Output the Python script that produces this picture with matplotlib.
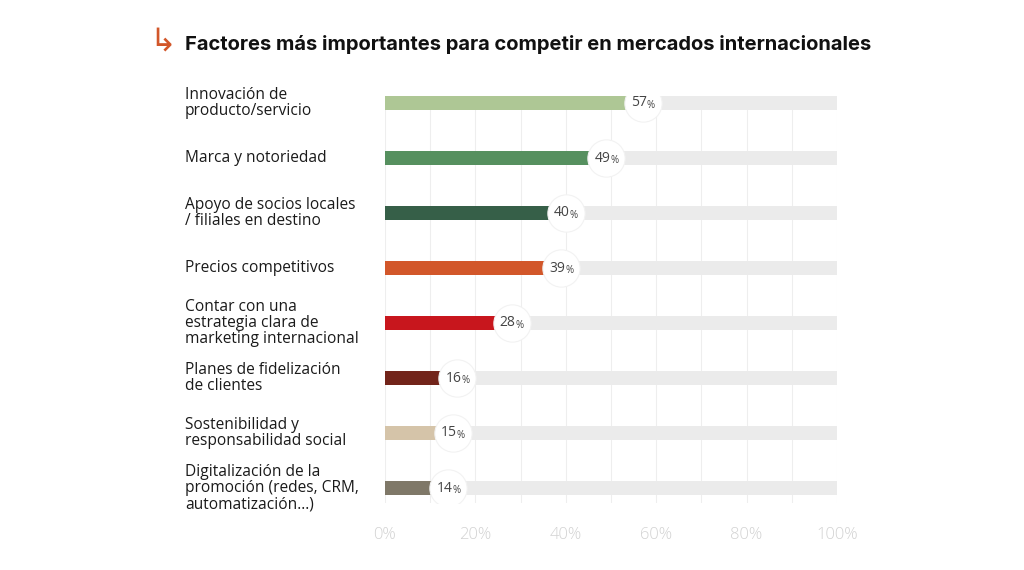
import matplotlib
matplotlib.use("Agg")
import matplotlib.pyplot as plt
from matplotlib.transforms import blended_transform_factory

categories = [
    "Innovación de\nproducto/servicio",
    "Marca y notoriedad",
    "Apoyo de socios locales\n/ filiales en destino",
    "Precios competitivos",
    "Contar con una\nestrategia clara de\nmarketing internacional",
    "Planes de fidelización\nde clientes",
    "Sostenibilidad y\nresponsabilidad social",
    "Digitalización de la\npromoción (redes, CRM,\nautomatización...)",
]
values = [57, 49, 40, 39, 28, 16, 15, 14]
colors = ["#aec795", "#56905f", "#365f48", "#d2572a", "#c8161d", "#72241a", "#d5c4a9", "#7f7868"]
ticks = [0, 20, 40, 60, 80, 100]
title = "Factores más importantes para competir en mercados internacionales"

plt.rcParams['font.family'] = ['Open Sans', 'DejaVu Sans']

fig = plt.figure(figsize=(10.24, 5.70), dpi=100)
ax = fig.add_axes([385/1024, 1-503/570, (837-385)/1024, (503-96)/570])

ypos = list(range(len(values)))
bh = 0.255
ax.barh(ypos, [100]*len(values), height=bh, color="#ebebeb", zorder=1)
ax.barh(ypos, values, height=bh, color=colors, zorder=2)
ax.scatter(values, ypos, s=720, facecolor="white", edgecolor="#f2f2f2", linewidth=0.8, zorder=3)
for v, y in zip(values, ypos):
    ax.text(v + 0.9, y, str(v), ha="right", va="center", fontsize=10, color="#444444", zorder=4)
    ax.text(v + 0.9, y + 0.04, "%", ha="left", va="center", fontsize=7, color="#444444", zorder=4)

ax.set_xlim(0, 100)
ax.set_ylim(len(values) - 1 + 15/55, -7/55)
ax.set_xticks(range(0, 101, 10))
ax.grid(axis="x", color="#eeeeee", linewidth=0.8, zorder=0)
ax.set_axisbelow(True)
ax.set_yticks([])
ax.tick_params(axis="x", length=0, labelbottom=False)
for s in ax.spines.values():
    s.set_visible(False)

for t in ticks:
    ax.text(t, len(values) - 1 + 15/55 + 0.58, f"{t}%", ha="center", va="center",
            fontsize=12, color="#d2d2d2", fontweight="light")

tr = blended_transform_factory(fig.transFigure, ax.transData)
for c, y in zip(categories, ypos):
    ax.text(185/1024, y, c, transform=tr, ha="left", va="center", fontsize=11.2,
            color="#1a1a1a", linespacing=1.02)

fig.text(185/1024, 1-45/570, title, ha="left", va="center", fontsize=14.5,
         fontweight="bold", color="#111111", family=['Inter', 'DejaVu Sans'])
fig.text(149/1024, 1-42/570, "↳", ha="left", va="center", fontsize=23,
         color="#d2572a", family=['DejaVu Sans'])

fig.savefig("out.png", dpi=100, facecolor="white")
